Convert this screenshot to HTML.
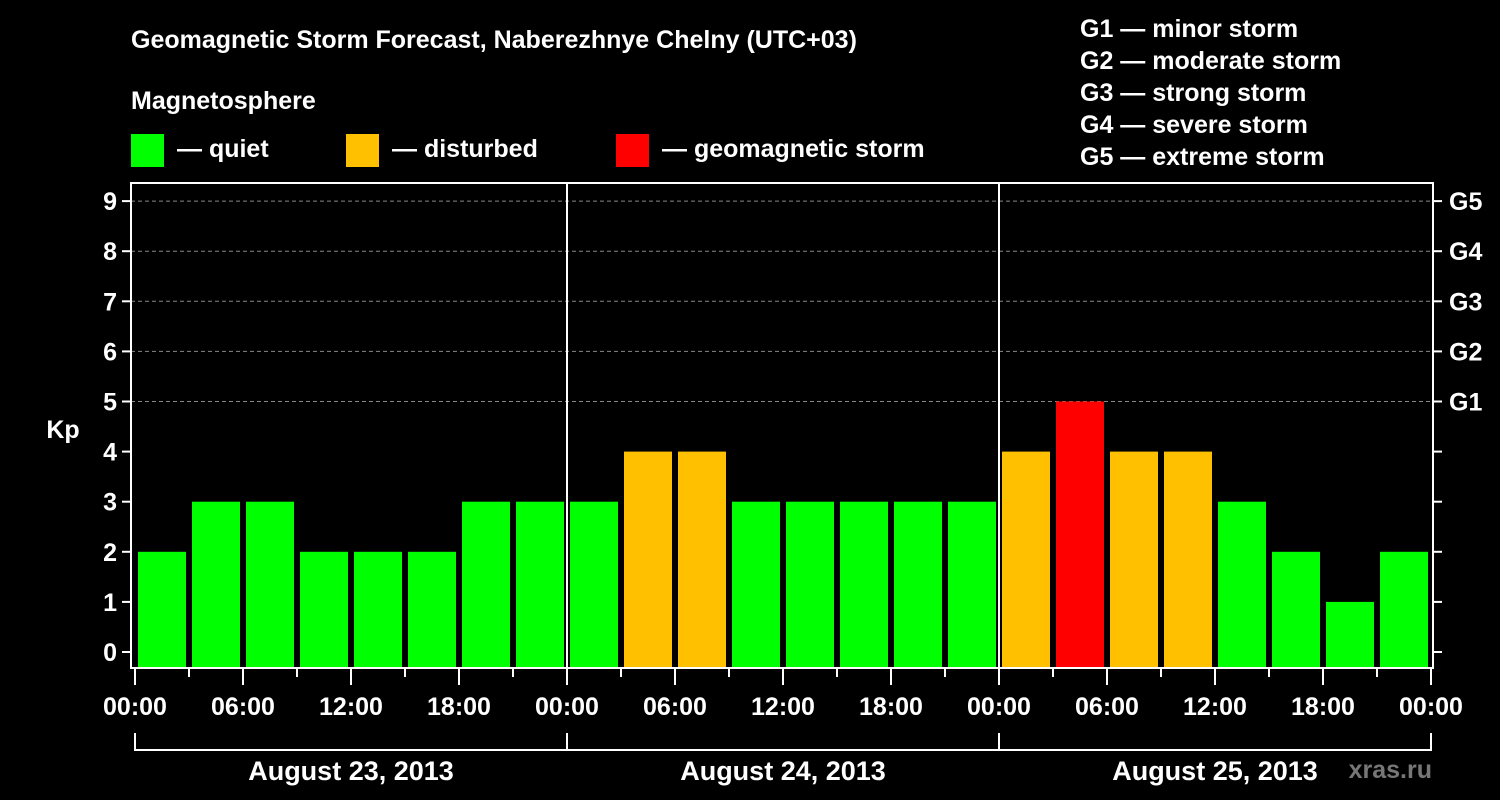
<!DOCTYPE html>
<html><head><meta charset="utf-8"><style>
body{margin:0;background:#000;width:1500px;height:800px;overflow:hidden}
svg{display:block}
text{font-family:"Liberation Sans",Arial,sans-serif;font-weight:bold;fill:#fff}
</style></head><body>
<svg id="chart" width="1500" height="800">
<text x="131" y="48" font-size="25">Geomagnetic Storm Forecast, Naberezhnye Chelny (UTC+03)</text>
<text x="131" y="109" font-size="25">Magnetosphere</text>
<g>
<rect x="131" y="134" width="33" height="33" fill="#00ff00"/>
<text x="177" y="157" font-size="25">— quiet</text>
<rect x="346" y="134" width="33" height="33" fill="#ffc000"/>
<text x="392" y="157" font-size="25">— disturbed</text>
<rect x="616" y="134" width="33" height="33" fill="#ff0000"/>
<text x="662" y="157" font-size="25">— geomagnetic storm</text>
</g>
<g font-size="25">
<text x="1080" y="37">G1 — minor storm</text>
<text x="1080" y="69">G2 — moderate storm</text>
<text x="1080" y="101">G3 — strong storm</text>
<text x="1080" y="133">G4 — severe storm</text>
<text x="1080" y="165">G5 — extreme storm</text>
</g>
<text x="63" y="438" font-size="25" text-anchor="middle">Kp</text>
<text x="1432" y="778" font-size="25" text-anchor="end" fill="#777" style="fill:#777">xras.ru</text>
<g id="plot"></g>
</svg>
<script>
const dayLabels = ["August 23, 2013","August 24, 2013","August 25, 2013"];
const kpValues = [2,3,3,2,2,2,3,3, 3,4,4,3,3,3,3,3, 4,5,4,4,3,2,1,2];
const yTicks = [0,1,2,3,4,5,6,7,8,9];
const gLabels = ["G1","G2","G3","G4","G5"];
const gLevels = [5,6,7,8,9];
const xTickLabels = ["00:00","06:00","12:00","18:00"];

const NS="http://www.w3.org/2000/svg";
const plot=document.getElementById('plot');
const L=131,R=1433,T=183,B=668,X0=135,DAY=432;
const yS=v=>652-v*50.1;
const xS=h=>X0+h*(DAY/24);
function mk(tag,attrs,parent){const e=document.createElementNS(NS,tag);for(const k in attrs)e.setAttribute(k,attrs[k]);(parent||plot).appendChild(e);return e;}
// grid
yTicks.forEach(v=>{
  if(v>=5){const g=mk('line',{x1:L,x2:R,y1:yS(v),y2:yS(v),stroke:'#888','stroke-dasharray':'4,3','stroke-width':1});
  
  }
  const t=mk('line',{x1:L-9,x2:L,y1:yS(v),y2:yS(v),stroke:'#fff','stroke-width':2});
  
  
  const t2=mk('line',{x1:R,x2:R+9,y1:yS(v),y2:yS(v),stroke:'#fff','stroke-width':2});
  
  
  const lb=mk('text',{x:L-14,y:yS(v)+9,'font-size':25,'text-anchor':'end'});
  lb.textContent=v;
  
  
});
gLabels.forEach((g,i)=>{
  const lb=mk('text',{x:1449,y:yS(gLevels[i])+9,'font-size':25});
  lb.textContent=g;
  
  
});
// bars
kpValues.forEach((v,i)=>{
  const col=v>=5?'#ff0000':(v>=4?'#ffc000':'#00ff00');
  const x=xS(i*3)+3,w=DAY/8-6;
  const top=yS(v);
  const r=mk('rect',{x:x,y:top,width:w,height:B-top,fill:col});
  
  
});
// day separators
for(let d=1;d<dayLabels.length;d++){
  const l=mk('line',{x1:xS(d*24),x2:xS(d*24),y1:T,y2:B,stroke:'#fff','stroke-width':2});
  
  
}
// frame
const f=mk('rect',{x:L,y:T,width:R-L,height:B-T,fill:'none',stroke:'#fff','stroke-width':2});


// x ticks
for(let h=0;h<=24*dayLabels.length;h+=3){
  const major=h%6===0;
  const t=mk('line',{x1:xS(h),x2:xS(h),y1:B,y2:major?B+17:B+9,stroke:'#fff','stroke-width':2});
  
  
  if(major){
    const lb=mk('text',{x:xS(h),y:715,'font-size':25,'text-anchor':'middle'});
    lb.textContent=xTickLabels[(h%24)/6];
    
    
  }
}
// day brackets
dayLabels.forEach((d,i)=>{
  const a=xS(i*24),b=xS((i+1)*24);
  const p=mk('path',{d:`M${a},733 V750 H${b} V733`,fill:'none',stroke:'#fff','stroke-width':2});
  
  
  const lb=mk('text',{x:(a+b)/2,y:780,'font-size':27,'text-anchor':'middle'});
  lb.textContent=d;
  
  
});
</script>
</body></html>
